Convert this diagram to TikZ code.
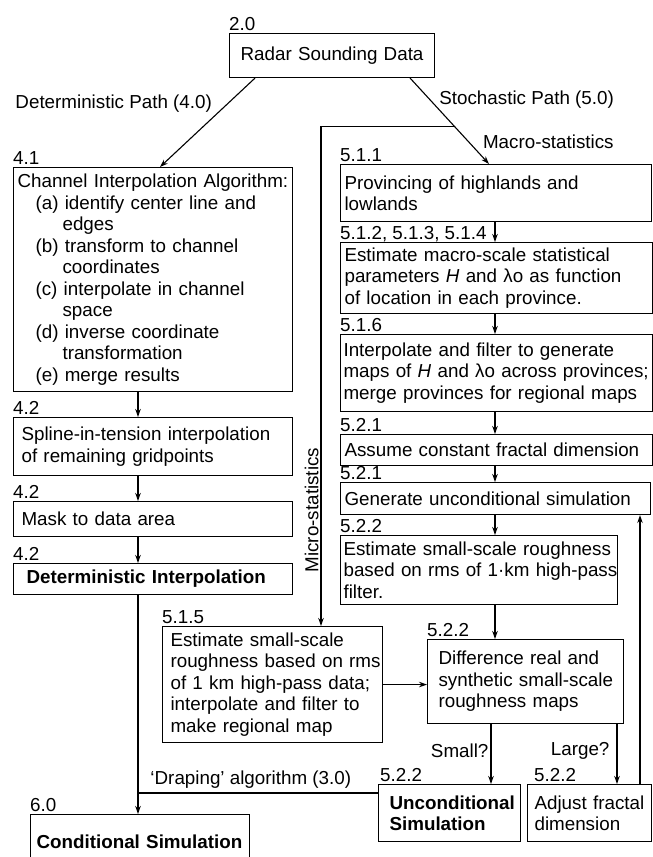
\documentclass[tikz,border=0pt]{standalone}
\usepackage{fontspec}
\setmainfont{Liberation Sans}
\usetikzlibrary{arrows.meta}

\newcommand{\subind}{\hspace*{18pt}}
\newcommand{\contind}{\hspace*{45pt}}

\tikzset{
  box/.style={draw, line width=1.1pt, anchor=north west, align=left, inner ysep=0pt, inner xsep=4pt},
  num/.style={anchor=base west, inner sep=0pt, yshift=2.5pt},
  arr/.style={line width=1.1pt, -{Stealth[length=8pt,width=5.5pt]}},
  link/.style={line width=1.1pt},
  lbl/.style={inner sep=2pt}
}

\begin{document}
\begin{tikzpicture}[x=1pt, y=-1pt, font=\fontsize{18.8}{21.5}\selectfont]
\useasboundingbox (0,0) rectangle (653,857);

% boxes, placed by their top left corner
\node[box, align=center, text width=197pt, minimum height=44pt] (radar) at (229,33) {Radar Sounding Data};

\node[box, text width=271pt, minimum height=224pt] (chan) at (13,167) {Channel Interpolation Algorithm:\\
\subind(a) identify center line and\\ \contind edges\\
\subind(b) transform to channel\\ \contind coordinates\\
\subind(c) interpolate in channel\\ \contind space\\
\subind(d) inverse coordinate\\ \contind transformation\\
\subind(e) merge results};
\node[box, inner xsep=8pt, text width=263pt, minimum height=58pt] (spline) at (13,417) {Spline-in-tension interpolation\\of remaining gridpoints};
\node[box, inner xsep=8pt, text width=263pt, minimum height=35pt] (mask) at (13,501) {Mask to data area};
\node[box, inner xsep=13pt, text width=253pt, minimum height=31pt] (detint) at (13,563) {\textbf{Deterministic Interpolation}};
\node[box, inner xsep=6pt, text width=207pt, minimum height=54pt] (cond) at (30,814) {\mbox{\textbf{Conditional Simulation}}};

\node[box, text width=303pt, minimum height=57pt] (prov) at (340,164) {Provincing of highlands and\\lowlands};
\node[box, text width=304pt, minimum height=71pt] (macro) at (340,242) {Estimate macro-scale statistical\\parameters \textit{H} and λo as function\\of location in each province.};
\node[box, inner xsep=3pt, text width=306pt, minimum height=77pt] (mapint) at (340,334) {Interpolate and filter to generate\\\mbox{maps of \textit{H} and λo across provinces;}\\merge provinces for regional maps};
\node[box, text width=304pt, minimum height=31pt] (assume) at (340,434) {Assume constant fractal dimension};
\node[box, text width=302pt, minimum height=32pt] (gen) at (340,482) {Generate unconditional simulation};
\node[box, inner xsep=3pt, text width=271pt, minimum height=69pt] (rough) at (340,535) {\mbox{Estimate small-scale roughness}\\\mbox{based on rms of 1 \llap{·}km high-pass}\\filter.};
\node[box, inner xsep=8pt, text width=204pt, minimum height=116pt] (rmsmap) at (162,626) {\mbox{Estimate small-scale}\\\mbox{roughness based on rms}\\\mbox{of 1 km high-pass data;}\\\mbox{interpolate and filter to}\\make regional map};
\node[box, inner xsep=11pt, text width=174pt, minimum height=84pt] (diff) at (427,639) {\mbox{Difference real and}\\\mbox{synthetic small-scale}\\roughness maps};
\node[box, inner xsep=11pt, text width=120pt, minimum height=57pt] (uncond) at (378,784) {\textbf{Unconditional}\\\textbf{Simulation}};
\node[box, inner xsep=7pt, text width=110pt, minimum height=57pt] (adjust) at (527,784) {\mbox{Adjust fractal}\\dimension};

% section numbers
\node[num] (n20) at (radar.north west) {2.0};
\node[num] (n41) at (chan.north west) {4.1};
\node[num] (n42a) at (spline.north west) {4.2};
\node[num] (n42b) at (mask.north west) {4.2};
\node[num] (n42c) at (detint.north west) {4.2};
\node[num] (n60) at (cond.north west) {6.0};
\node[num] (n511) at (prov.north west) {5.1.1};
\node[num] (n512) at (macro.north west) {5.1.2, 5.1.3, 5.1.4};
\node[num] (n516) at (mapint.north west) {5.1.6};
\node[num] (n521a) at (assume.north west) {5.2.1};
\node[num] (n521b) at (gen.north west) {5.2.1};
\node[num] (n522a) at (rough.north west) {5.2.2};
\node[num] (n515) at (rmsmap.north west) {5.1.5};
\node[num] (n522b) at (diff.north west) {5.2.2};
\node[num] (n522c) at ([xshift=2pt]uncond.north west) {5.2.2};
\node[num] (n522d) at ([xshift=7pt]adjust.north west) {5.2.2};

% columns of the vertical connectors
\coordinate (lx) at (138,0);
\coordinate (rx) at (495,0);
\coordinate (mx) at (321,0);
\coordinate (sx) at (491,0);
\coordinate (gx) at (617,0);
\coordinate (fx) at (640,0);
\coordinate (drape) at (138,793);

\draw[arr] ([xshift=26pt]radar.south west) -- node[lbl, pos=0.29, anchor=east, xshift=-13pt] {Deterministic Path (4.0)} ([xshift=147pt]chan.north west);
\draw[arr] ([xshift=-25pt]radar.south east) -- node[lbl, pos=0.25, anchor=west, xshift=7pt] {Stochastic Path (5.0)}
  node[lbl, pos=0.74, anchor=west, xshift=12pt] {Macro-statistics}
  coordinate[pos=0.563] (split) ([xshift=149pt]prov.north west);
\draw[arr] (split) -| node[lbl, pos=0.884, rotate=90, anchor=south] {Micro-statistics} (rmsmap.north -| mx);

\draw[arr] (chan.south -| lx) -- (spline.north -| lx);
\draw[arr] (spline.south -| lx) -- (mask.north -| lx);
\draw[arr] (mask.south -| lx) -- (detint.north -| lx);
\draw[arr] (detint.south -| lx) -- (cond.north -| lx);
\draw[link] (uncond.west |- drape) -- node[lbl, pos=0.53, above=2pt] {‘Draping’ algorithm (3.0)} (drape);

\draw[arr] (prov.south -| rx) -- (macro.north -| rx);
\draw[arr] (macro.south -| rx) -- (mapint.north -| rx);
\draw[arr] (mapint.south -| rx) -- (assume.north -| rx);
\draw[arr] (assume.south -| rx) -- (gen.north -| rx);
\draw[arr] (gen.south -| rx) -- (rough.north -| rx);
\draw[arr] (rough.south -| rx) -- (diff.north -| rx);
\draw[arr] (rmsmap.east) -- (rmsmap.east -| diff.west);
\draw[arr] (diff.south -| sx) -- node[lbl, pos=0.44, left] {Small?} (uncond.north -| sx);
\draw[arr] (diff.south -| gx) -- node[lbl, pos=0.44, left=5pt] {Large?} (adjust.north -| gx);
\draw[arr] (adjust.north -| fx) -- (gen.south -| fx);
\end{tikzpicture}
\end{document}
